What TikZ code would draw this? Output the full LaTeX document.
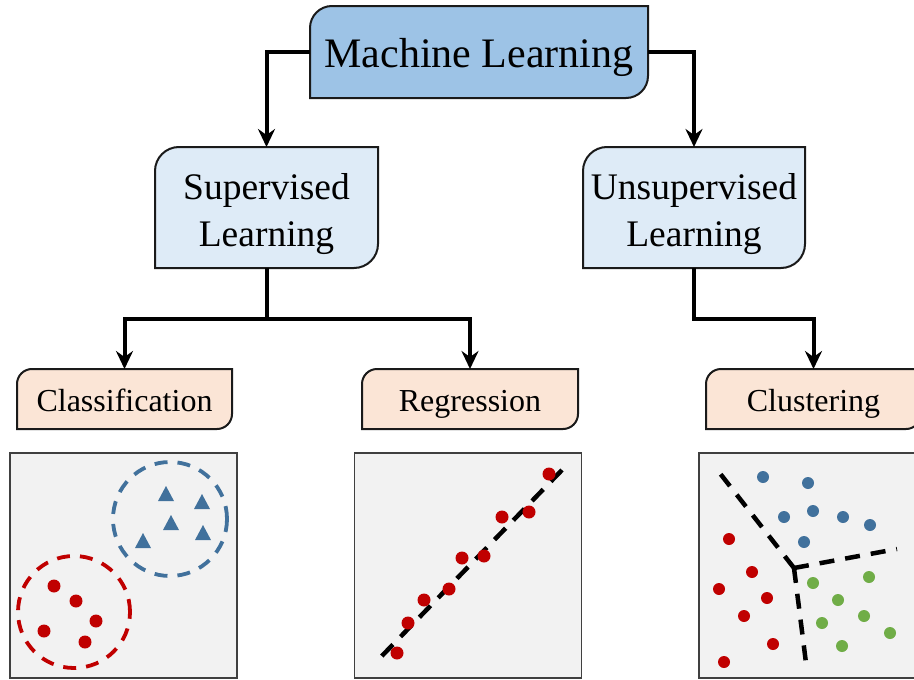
\documentclass[tikz,border=0pt]{standalone}
\usepackage{fontspec}
\setmainfont{Liberation Serif}
\usetikzlibrary{arrows.meta,backgrounds,calc}

\definecolor{mlfill}{HTML}{9DC3E6}
\definecolor{subfill}{HTML}{DEEBF7}
\definecolor{leaffill}{HTML}{FBE5D6}
\definecolor{panelfill}{HTML}{F2F2F2}
\definecolor{panelline}{HTML}{404040}
\definecolor{boxline}{HTML}{1A1A1A}
\definecolor{dotred}{HTML}{C00000}
\definecolor{dotblue}{HTML}{41719C}
\definecolor{dotgreen}{HTML}{70AD47}

\newcommand\tworound[3]{%
  \begin{scope}[on background layer]
    \filldraw[fill=#2, draw=boxline, line width=2pt]
      (#1.south west) -- ([yshift=-#3]#1.north west)
      arc[start angle=180, end angle=90, radius=#3]
      -- (#1.north east) -- ([yshift=#3]#1.south east)
      arc[start angle=0, end angle=-90, radius=#3] -- cycle;
  \end{scope}}

\begin{document}
\begin{tikzpicture}[x=1pt, y=-1pt,
  shapebox/.style={inner sep=0pt, outer sep=0pt},
  boxtext/.style={inner sep=0pt, align=center},
  conn/.style={line width=4pt, draw=black, -{Stealth[length=18pt, width=17pt, inset=6pt]}},
  plainconn/.style={line width=4pt, draw=black},
  panel/.style={draw=panelline, fill=panelfill, line width=1.8pt, inner sep=0pt, minimum width=227pt, minimum height=225pt},
  sep/.style={line width=4.5pt, dash pattern=on 16pt off 11pt},
  ring/.style={line width=3.8pt, dash pattern=on 13pt off 10pt}
]
\useasboundingbox (0,0) rectangle (914,680);
\clip (0,0) rectangle (914,680);

% boxes (shapes)
\node[shapebox, minimum width=338pt, minimum height=92pt] (ml) at (479,52) {};
\tworound{ml}{mlfill}{22pt}
\node[shapebox, minimum width=223pt, minimum height=121pt] (sup) at (266.5,207.5) {};
\tworound{sup}{subfill}{24pt}
\node[shapebox, minimum width=222pt, minimum height=121pt] (unsup) at (694,207.5) {};
\tworound{unsup}{subfill}{24pt}
\node[shapebox, minimum width=215pt, minimum height=60pt] (cls) at (124.5,399) {};
\tworound{cls}{leaffill}{15pt}
\node[shapebox, minimum width=216pt, minimum height=60pt] (reg) at (470,399) {};
\tworound{reg}{leaffill}{15pt}
\node[shapebox, minimum width=215pt, minimum height=60pt] (clu) at (813.5,399) {};
\tworound{clu}{leaffill}{15pt}

% box texts
\node[boxtext, anchor=base, font=\fontsize{42}{50}\selectfont] (mlt) at (479,67) {Machine Learning};
\node[boxtext, font=\fontsize{37.5}{47}\selectfont] (supt) at (266.5,214.5) {Supervised\\Learning};
\node[boxtext, font=\fontsize{37.5}{47}\selectfont] (unsupt) at (694,214.5) {Unsupervised\\Learning};
\node[boxtext, anchor=base, font=\fontsize{32}{38}\selectfont] (clst) at (124.5,411) {Classification};
\node[boxtext, anchor=base, font=\fontsize{32}{38}\selectfont] (regt) at (470,411) {Regression};
\node[boxtext, anchor=base, font=\fontsize{32}{38}\selectfont] (clut) at (813.5,411) {Clustering};

% connectors
\draw[conn] (ml.west) -| (sup.north);
\draw[conn] (ml.east) -| (unsup.north);
\coordinate (j1) at (266.5,318.5);
\draw[plainconn] (sup.south) -- (j1);
\draw[conn] ([xshift=2pt]j1) -| (cls.north);
\draw[conn] ([xshift=-2pt]j1) -| (reg.north);
\coordinate (j2) at (694,319);
\draw[plainconn] (unsup.south) -- (j2);
\draw[conn] ([xshift=-2pt]j2) -| (clu.north);

% panels
\node[panel] (p1) at (123.5,565.5) {};
\node[panel] (p2) at (468,565.5) {};
\node[panel] (p3) at (812.5,565.5) {};

% classification
\draw[ring, draw=dotblue] (170,519) circle[radius=57pt];
\draw[ring, draw=dotred] (74,612) circle[radius=56pt];
\foreach \x/\y in {166/494, 202/502, 171/523, 203/533, 143/541}
  \fill[dotblue] (\x,\y) ++(-8,7) -- ++(16,0) -- ++(-8,-15) -- cycle;
\foreach \x/\y in {54/586, 76/601, 96/621, 44/631, 85/642}
  \fill[dotred] (\x,\y) circle[radius=6.5pt];

% regression
\draw[sep] (562,470) -- (377,661);
\foreach \x/\y in {549/474, 502/517, 529/512, 462/558, 484/556, 449/589, 424/600, 408/623, 397/653}
  \fill[dotred] (\x,\y) circle[radius=6.5pt];

% clustering
\coordinate (cc) at (794,568);
\draw[sep, dash pattern=on 15pt off 11pt] (cc) -- (715,467);
\draw[sep, dash pattern=on 15pt off 11pt] (cc) -- (897,549);
\draw[sep, dash pattern=on 15pt off 11pt] (cc) -- (806,663);
\foreach \x/\y in {763/477, 808/483, 784/517, 813/511, 843/517, 870/525, 804/542}
  \fill[dotblue] (\x,\y) circle[radius=6pt];
\foreach \x/\y in {729/539, 752/572, 719/589, 767/598, 744/616, 773/644, 724/662}
  \fill[dotred] (\x,\y) circle[radius=6pt];
\foreach \x/\y in {813/583, 869/577, 838/600, 864/616, 822/623, 890/633, 842/646}
  \fill[dotgreen] (\x,\y) circle[radius=6pt];
\end{tikzpicture}
\end{document}
